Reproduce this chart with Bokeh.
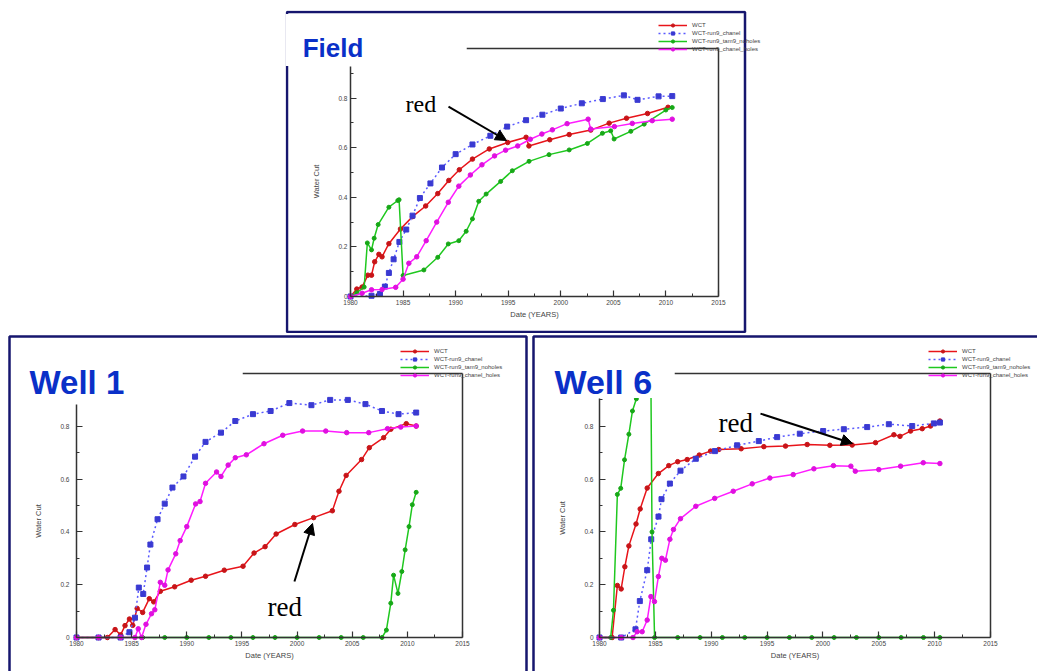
from bokeh.plotting import figure
from bokeh.models import (Range1d, LinearAxis, FixedTicker, Legend, LegendItem,
                          Label, Arrow, NormalHead, BoxAnnotation, Spacer)
from bokeh.layouts import row, column
from bokeh.embed import file_html
from bokeh.resources import INLINE

# ---------------- data ----------------
series_names = ["WCT", "WCT-run9_chanel", "WCT-run9_tam9_noholes", "WCT-run9_chanel_holes"]
x_ticks = [1980, 1985, 1990, 1995, 2000, 2005, 2010, 2015]
y_ticks = [0, 0.2, 0.4, 0.6, 0.8]

# Field
f_wct_x = [1980.0, 1980.6, 1981.1, 1981.65, 1982.0, 1982.3, 1982.7, 1983.0, 1983.65, 1984.75, 1985.9, 1987.15,
           1988.3, 1989.35, 1990.35, 1991.6, 1993.2, 1994.95, 1996.7, 1996.97, 1998.95, 2000.8, 2002.85, 2004.6,
           2006.25, 2008.25, 2010.2]
f_wct_y = [0.0, 0.03, 0.038, 0.086, 0.086, 0.14, 0.17, 0.16, 0.213, 0.272, 0.322, 0.365, 0.415, 0.468, 0.511,
           0.554, 0.595, 0.621, 0.642, 0.607, 0.632, 0.653, 0.671, 0.699, 0.719, 0.738, 0.763]
f_chan_x = [1980.0, 1982.0, 1982.8, 1983.27, 1983.65, 1984.1, 1984.65, 1985.3, 1985.9, 1986.6, 1987.6, 1988.7,
            1990.0, 1991.6, 1993.3, 1994.9, 1996.7, 1998.25, 2000.0, 2002.0, 2004.0, 2006.0, 2007.3, 2009.3, 2010.6]
f_chan_y = [0.0, 0.003, 0.01, 0.04, 0.095, 0.15, 0.22, 0.27, 0.326, 0.397, 0.456, 0.52, 0.574, 0.613, 0.648,
            0.685, 0.711, 0.733, 0.758, 0.779, 0.796, 0.811, 0.793, 0.807, 0.808]
f_nohole_x = [1980.0, 1980.6, 1981.3, 1981.6, 1982.0, 1982.25, 1982.63, 1983.65, 1984.5, 1984.62, 1985.0,
              1986.98, 1988.3, 1989.3, 1990.3, 1991.0, 1991.6, 1992.2, 1992.9, 1994.28, 1995.39, 1996.98,
              1998.88, 2000.8, 2002.53, 2003.96, 2004.75, 2005.07, 2006.66, 2007.93, 2009.99, 2010.6]
f_nohole_y = [0.0, 0.015, 0.038, 0.216, 0.188, 0.235, 0.29, 0.36, 0.387, 0.39, 0.085, 0.107, 0.158, 0.212,
              0.225, 0.263, 0.313, 0.384, 0.413, 0.464, 0.507, 0.545, 0.572, 0.591, 0.617, 0.658, 0.668, 0.635,
              0.666, 0.695, 0.752, 0.762]
f_holes_x = [1980.0, 1981.1, 1982.0, 1983.0, 1984.3, 1985.0, 1985.55, 1986.3, 1987.2, 1988.2, 1989.3, 1990.3,
             1991.4, 1992.5, 1993.7, 1994.75, 1995.9, 1997.1, 1998.2, 1999.2, 2000.6, 2002.6, 2002.85, 2005.1,
             2006.8, 2008.7, 2010.6]
f_holes_y = [0.0, 0.013, 0.027, 0.028, 0.037, 0.07, 0.134, 0.16, 0.225, 0.30, 0.38, 0.445, 0.49, 0.531, 0.567,
             0.59, 0.607, 0.634, 0.655, 0.672, 0.697, 0.715, 0.675, 0.685, 0.698, 0.709, 0.715]

# Well 1
w1_wct_x = [1980.0, 1982.0, 1982.8, 1983.5, 1984.0, 1984.4, 1984.8, 1985.1, 1985.5, 1986.0, 1986.6, 1987.0,
            1987.6, 1988.9, 1990.4, 1991.7, 1993.4, 1995.1, 1996.1, 1997.1, 1998.1, 1999.8, 2001.5, 2003.2,
            2003.8, 2004.45, 2005.85, 2006.55, 2007.85, 2008.5, 2009.9, 2010.8]
w1_wct_y = [0.0, 0.0, 0.0, 0.03, 0.01, 0.045, 0.07, 0.046, 0.11, 0.095, 0.147, 0.135, 0.175, 0.192, 0.217,
            0.232, 0.255, 0.27, 0.32, 0.344, 0.392, 0.428, 0.454, 0.48, 0.554, 0.614, 0.674, 0.719, 0.757, 0.789,
            0.81, 0.801]
w1_chan_x = [1980.0, 1982.0, 1984.0, 1984.8, 1985.3, 1985.65, 1986.05, 1986.4, 1986.7, 1987.35, 1988.0, 1988.7,
             1989.7, 1990.75, 1991.7, 1993.1, 1994.4, 1996.0, 1997.6, 1999.3, 2001.3, 2003.0, 2004.6, 2006.2,
             2007.7, 2009.2, 2010.8]
w1_chan_y = [0.0, 0.0, 0.0, 0.02, 0.075, 0.189, 0.165, 0.265, 0.352, 0.448, 0.507, 0.568, 0.61, 0.685, 0.741,
             0.776, 0.82, 0.846, 0.858, 0.888, 0.88, 0.90, 0.90, 0.884, 0.858, 0.846, 0.852]
w1_nohole_x = [1980.0, 1982.0, 1984.0, 1986.0, 1988.0, 1990.0, 1992.0, 1994.0, 1996.0, 1998.0, 2000.0, 2002.0,
               2004.0, 2006.0, 2007.7, 2008.1, 2008.5, 2008.75, 2009.15, 2009.5, 2009.8, 2010.15, 2010.45, 2010.8]
w1_nohole_y = [0.0, 0.0, 0.0, 0.0, 0.0, 0.0, 0.0, 0.0, 0.0, 0.0, 0.0, 0.0, 0.0, 0.0, 0.0, 0.028, 0.13, 0.236,
               0.167, 0.25, 0.332, 0.42, 0.503, 0.55]
w1_holes_x = [1980.0, 1982.0, 1984.0, 1985.3, 1985.6, 1985.9, 1986.3, 1986.8, 1987.1, 1987.6, 1988.0, 1988.3,
              1989.0, 1989.4, 1990.0, 1990.8, 1991.2, 1991.7, 1992.7, 1993.1, 1993.75, 1994.4, 1995.4, 1997.0,
              1998.7, 2000.5, 2002.6, 2004.5, 2006.5, 2008.2, 2009.4, 2010.8]
w1_holes_y = [0.0, 0.0, 0.0, 0.0, 0.033, 0.0, 0.05, 0.09, 0.105, 0.209, 0.198, 0.256, 0.317, 0.367, 0.42, 0.506,
              0.515, 0.584, 0.627, 0.61, 0.653, 0.681, 0.692, 0.734, 0.766, 0.782, 0.782, 0.776, 0.776, 0.791,
              0.797, 0.801]

# Well 6
w6_wct_x = [1980.0, 1981.13, 1981.6, 1981.94, 1982.27, 1982.63, 1983.27, 1983.64, 1984.27, 1985.27, 1986.2,
            1987.0, 1987.85, 1988.93, 1989.94, 1990.68, 1992.68, 1994.71, 1996.65, 1998.59, 2000.62, 2002.62,
            2004.71, 2006.35, 2006.9, 2007.84, 2008.89, 2009.63, 2010.47]
w6_wct_y = [0.0, 0.0, 0.197, 0.184, 0.268, 0.347, 0.43, 0.487, 0.566, 0.621, 0.651, 0.666, 0.674, 0.691, 0.706,
            0.712, 0.715, 0.723, 0.725, 0.731, 0.728, 0.729, 0.738, 0.768, 0.762, 0.782, 0.791, 0.801, 0.82]
w6_chan_x = [1980.0, 1981.94, 1983.22, 1983.61, 1984.27, 1984.63, 1985.28, 1985.55, 1986.3, 1987.25, 1988.62,
             1990.33, 1992.32, 1994.26, 1995.9, 1997.93, 2000.02, 2001.87, 2003.96, 2005.9, 2007.99, 2009.93,
             2010.47]
w6_chan_y = [0.0, 0.0, 0.031, 0.138, 0.255, 0.372, 0.458, 0.524, 0.583, 0.632, 0.677, 0.706, 0.728, 0.744,
             0.759, 0.772, 0.782, 0.789, 0.797, 0.808, 0.801, 0.811, 0.814]
w6_nohole_x = [1980.0, 1981.0, 1981.25, 1981.6, 1981.9, 1982.24, 1982.63, 1982.95, 1983.3, 1983.8, 1984.6,
               1984.7, 1984.93, 1987.0, 1989.0, 1991.0, 1993.0, 1995.0, 1997.0, 1999.0, 2001.0, 2003.0, 2005.0,
               2007.0, 2009.0, 2010.47]
w6_nohole_y = [0.0, 0.0, 0.103, 0.542, 0.565, 0.673, 0.77, 0.858, 0.904, 0.95, 0.98, 0.4, 0.0, 0.0, 0.0, 0.0,
               0.0, 0.0, 0.0, 0.0, 0.0, 0.0, 0.0, 0.0, 0.0, 0.0]
w6_holes_x = [1980.0, 1981.94, 1983.0, 1983.37, 1983.82, 1984.27, 1984.6, 1984.92, 1985.27, 1985.58, 1985.9,
              1986.3, 1986.62, 1987.25, 1988.62, 1990.31, 1991.97, 1993.67, 1995.25, 1997.34, 1999.19, 2000.94,
              2002.5, 2002.9, 2005.0, 2006.95, 2008.98, 2010.47]
w6_holes_y = [0.0, 0.0, 0.0, 0.022, 0.022, 0.066, 0.155, 0.136, 0.231, 0.30, 0.293, 0.372, 0.409, 0.45, 0.497,
              0.527, 0.554, 0.582, 0.604, 0.617, 0.639, 0.651, 0.649, 0.63, 0.636, 0.649, 0.662, 0.659]

# ---------------- styling ----------------
LINE_COLORS = ["#e8141a", "#5a5aff", "#1fc81f", "#ff1cff"]
MARK_COLORS = ["#c81418", "#3a3ad2", "#17a817", "#e010e0"]
DASHES = ["solid", "2 3", "solid", "solid"]
MARKERS = ["circle", "square", "circle", "circle"]
MSIZE = [4.5, 5, 4, 4.5]
AX_COL = "#333333"
TITLE_BLUE = "#0a30c8"
NAVY = "#16166e"


def style_axis(ax, label_standoff):
    ax.axis_line_color = AX_COL
    ax.axis_line_width = 1.5
    ax.major_tick_in = 6
    ax.major_tick_out = 0
    ax.minor_tick_in = 3
    ax.minor_tick_out = 0
    ax.major_tick_line_color = AX_COL
    ax.minor_tick_line_color = AX_COL
    ax.major_tick_line_width = 1.2
    ax.minor_tick_line_width = 1
    ax.major_label_text_font = "Liberation Sans"
    ax.major_label_text_font_size = "6.5px"
    ax.major_label_text_color = "#444444"
    ax.major_label_standoff = label_standoff
    ax.axis_label_text_font = "Liberation Sans"
    ax.axis_label_text_font_size = "7.5px"
    ax.axis_label_text_font_style = "normal"
    ax.axis_label_text_color = "#444444"


def make_panel(w, h, fr, x_cut, y_cut, data, title, title_size, title_pos,
               red_pos, red_size, arrow, leg_loc, ylab_standoff, box, cover_left_px):
    # fr = pixel positions (left, right, top, bottom) of the 1980..2015 x 0..1 box inside the canvas
    fl, frt, ft, fb = fr
    pxx = (frt - fl) / 35.0
    pxy = (fb - ft) / 1.0
    x0 = 1980 - fl / pxx
    x1 = 1980 + (w - fl) / pxx
    y0 = -(h - fb) / pxy
    y1 = fb / pxy
    p = figure(width=w, height=h, x_range=Range1d(x0, x1), y_range=Range1d(y0, y1),
               output_backend="svg", toolbar_location=None, min_border=0,
               x_axis_location=None, y_axis_location=None)
    p.grid.visible = False
    p.outline_line_color = None
    p.background_fill_color = "white"
    p.border_fill_color = "white"

    xa = LinearAxis(fixed_location=0, bounds=(1980, 2015),
                    ticker=FixedTicker(ticks=x_ticks, minor_ticks=[t + 2.5 for t in x_ticks[:-1]]),
                    axis_label="Date (YEARS)")
    style_axis(xa, 3)
    xa.axis_label_standoff = 2
    ya = LinearAxis(fixed_location=1980, bounds=(0, y_cut),
                    ticker=FixedTicker(ticks=y_ticks, minor_ticks=[t + 0.1 for t in y_ticks]),
                    axis_label="Water Cut")
    style_axis(ya, ylab_standoff)
    ya.axis_label_standoff = 14
    top = LinearAxis(fixed_location=1.0, ticker=FixedTicker(ticks=[]), bounds=(x_cut, 2015))
    right = LinearAxis(fixed_location=2015, ticker=FixedTicker(ticks=[]), bounds=(0, 1.0))
    for a in (top, right):
        style_axis(a, 0)
        a.major_label_text_font_size = "0px"
    p.add_layout(xa, "below")
    p.add_layout(ya, "left")
    p.add_layout(top, "above")
    p.add_layout(right, "right")

    items = []
    for i, (xs, ys) in enumerate(data):
        lr = p.line(xs, ys, line_color=LINE_COLORS[i], line_width=1.5, line_dash=DASHES[i])
        mr = p.scatter(xs, ys, marker=MARKERS[i], size=MSIZE[i], fill_color=MARK_COLORS[i],
                       line_color=MARK_COLORS[i])
        items.append(LegendItem(label=series_names[i], renderers=[lr, mr]))

    leg = Legend(items=items, location=leg_loc, padding=0, margin=0, spacing=0,
                 glyph_width=29, glyph_height=8, label_height=8, label_standoff=5,
                 label_text_font="Liberation Sans", label_text_font_size="6px",
                 label_text_color="#444444", background_fill_alpha=0, border_line_color=None)
    p.add_layout(leg)

    # panel border
    p.add_layout(BoxAnnotation(left=box[0], right=box[1], top=box[2], bottom=box[3],
                               left_units="canvas", right_units="canvas", top_units="canvas",
                               bottom_units="canvas", fill_alpha=0, line_color=NAVY,
                               line_alpha=1.0, line_width=2.5))
    # white title box covering the upper-left part of the chart
    p.add_layout(BoxAnnotation(left=x0 + cover_left_px / pxx, right=x_cut,
                               top=y1 - 3.5 / pxy, bottom=y_cut,
                               fill_color="white", fill_alpha=1.0, line_color=None))
    p.add_layout(Label(x=title_pos[0], y=title_pos[1], text=title, text_font="Liberation Sans",
                       text_font_style="bold", text_font_size=title_size, text_color=TITLE_BLUE,
                       text_baseline="alphabetic"))
    p.add_layout(Label(x=red_pos[0], y=red_pos[1], text="red", text_font="Liberation Serif",
                       text_font_size=red_size, text_color="black", text_baseline="alphabetic"))
    p.add_layout(Arrow(end=NormalHead(size=11, fill_color="black", line_color="black"),
                       x_start=arrow[0], y_start=arrow[1], x_end=arrow[2], y_end=arrow[3],
                       line_width=2, line_color="black"))
    return p


field = make_panel(480, 323, (65, 433, 38, 286), 1991.03, 0.929,
                   [(f_wct_x, f_wct_y), (f_chan_x, f_chan_y), (f_nohole_x, f_nohole_y), (f_holes_x, f_holes_y)],
                   "Field", "26px", (1975.45, 1.004), (1985.23, 0.778), "24px",
                   (1989.32, 0.766, 1994.84, 0.629), (373, 280), 3, (1.5, 459.5, 1.5, 321.5), 0)

well1 = make_panel(521, 337, (69, 455, 39, 303), 1995.05, 0.884,
                   [(w1_wct_x, w1_wct_y), (w1_chan_x, w1_chan_y), (w1_nohole_x, w1_nohole_y), (w1_holes_x, w1_holes_y)],
                   "Well 1", "33px", (1975.74, 0.966), (1997.32, 0.117), "27px",
                   (1999.76, 0.212, 2001.40, 0.432), (393, 292), 7, (2, 519, 2, 345), 4)

well6 = make_panel(506, 337, (68, 459, 39, 303), 1986.71, 0.907,
                   [(w6_wct_x, w6_wct_y), (w6_chan_x, w6_chan_y), (w6_nohole_x, w6_nohole_y), (w6_holes_x, w6_holes_y)],
                   "Well 6", "34px", (1975.97, 0.967), (1990.65, 0.811), "27px",
                   (1994.41, 0.848, 2002.65, 0.735), (397, 292), 6, (2, 520, 2, 345), 4)

layout = column(Spacer(height=10, width=1037),
                row(Spacer(width=285, height=323), field),
                Spacer(height=1, width=1037),
                row(Spacer(width=7, height=337), well1, Spacer(width=3, height=337), well6))

open("out.html", "w").write(file_html(layout, INLINE))
